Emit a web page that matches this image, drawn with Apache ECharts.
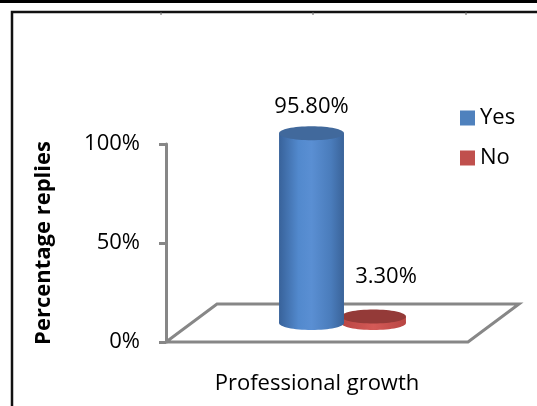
<!DOCTYPE html>
<html><head><meta charset="utf-8">
<script src="https://cdn.jsdelivr.net/npm/echarts@6/dist/echarts.min.js"></script>
<style>html,body{margin:0;padding:0;background:#fff}#c{width:537px;height:406px}</style>
</head><body><div id="c"></div>
<script>
// ---- data ----
const categories = ['Professional growth'];
const seriesNames = ['Yes', 'No'];
const yesValues = [95.8];
const noValues = [3.3];
const yTicks = [0, 50, 100];
const axisTitleY = 'Percentage replies';

// ---- styles ----
const FONT = 'Open Sans';
const DEPTH = [25.5, -19];
const GRAY = '#878787';
const cylStyles = {
  Yes: { color: '#4f81bd', shift: -0.1026, widthFrac: 0.215, ry: 7,
    body: [{offset:0,color:'#38629a'},{offset:0.3,color:'#5289cd'},{offset:0.5,color:'#5a8fd3'},{offset:0.8,color:'#4a7cbb'},{offset:1,color:'#3a6399'}],
    top: '#41699c', labelDx: 0, labelDy: -27 },
  No: { color: '#c0504d', shift: 0.1026, widthFrac: 0.215, ry: 7,
    body: [{offset:0,color:'#b84643'},{offset:0.5,color:'#d45a57'},{offset:1,color:'#b84643'}],
    top: '#943a38', labelDx: 12.5, labelDy: -40 }
};

function makeRender(name) {
  const s = cylStyles[name];
  return function (params, api) {
    const cat = api.value(0), val = api.value(1);
    const band = api.size([1, 0])[0];
    const p1 = api.coord([cat, val]);
    const p0 = api.coord([cat, 0]);
    const cx = p0[0] + DEPTH[0] + s.shift * band;
    const yb = p0[1] + DEPTH[1];
    const yt = p1[1] + DEPTH[1];
    const rx = band * s.widthFrac / 2;
    const grad = new echarts.graphic.LinearGradient(0, 0, 1, 0, s.body);
    return { type: 'group', children: [
      { type: 'ellipse', shape: { cx: cx, cy: yb, rx: rx, ry: s.ry }, style: { fill: grad } },
      { type: 'rect', shape: { x: cx - rx, y: yt, width: 2 * rx, height: yb - yt }, style: { fill: grad } },
      { type: 'ellipse', shape: { cx: cx, cy: yt, rx: rx, ry: s.ry }, style: { fill: s.top } },
      { type: 'text', x: cx + s.labelDx, y: yt + s.labelDy, style: {
          text: val.toFixed(2) + '%', fontSize: 22, fontFamily: FONT, fill: '#000',
          align: 'center', verticalAlign: 'middle' } }
    ]};
  };
}

function renderFloor(params, api) {
  const c = params.coordSys;
  const x0 = c.x, x1 = c.x + c.width, y = c.y + c.height;
  return { type: 'polygon', shape: { points: [
      [x0, y], [x1, y], [x1 + 2 * DEPTH[0], y + 2 * DEPTH[1]], [x0 + 2 * DEPTH[0], y + 2 * DEPTH[1]]
    ] }, style: { fill: '#fff', stroke: GRAY, lineWidth: 3, lineJoin: 'miter' }, z2: 0 };
}

const chart = echarts.init(document.getElementById('c'), null, { renderer: 'canvas' });
chart.setOption({
  animation: false,
  backgroundColor: '#fff',
  grid: { left: 166, right: 69, top: 144, bottom: 64, containLabel: false },
  legend: {
    data: seriesNames, orient: 'vertical', left: 455, top: 102,
    itemWidth: 15, itemHeight: 15, itemGap: 18, icon: 'rect',
    textStyle: { fontSize: 22, fontFamily: FONT, color: '#000', lineHeight: 22 }
  },
  xAxis: {
    type: 'category', data: categories,
    axisLine: { show: false }, axisTick: { show: false }, splitLine: { show: false },
    axisLabel: { fontSize: 22, fontFamily: FONT, color: '#000', margin: 31 }
  },
  yAxis: {
    type: 'value', min: yTicks[0], max: yTicks[yTicks.length - 1], interval: yTicks[1] - yTicks[0],
    name: axisTitleY, nameLocation: 'middle', nameRotate: 90, nameGap: 111,
    nameTextStyle: { fontSize: 22, fontWeight: 'bold', fontFamily: FONT, color: '#000' },
    axisLine: { show: true, lineStyle: { color: GRAY, width: 3 } },
    axisTick: { show: true, length: 7, lineStyle: { color: GRAY, width: 3 } },
    splitLine: { show: false },
    axisLabel: { fontSize: 22, fontFamily: FONT, color: '#000', margin: 26, formatter: v => v + '%' }
  },
  graphic: [
    { type: 'rect', shape: { x: 0, y: 0, width: 537, height: 3 }, style: { fill: '#000' } },
    { type: 'polyline', shape: { points: [[12, 406], [12, 12], [537, 12]] }, style: { stroke: '#111', lineWidth: 2.5, fill: null } },
    { type: 'line', shape: { x1: 161, y1: 12, x2: 161, y2: 15 }, style: { stroke: '#666', lineWidth: 1 } },
    { type: 'line', shape: { x1: 313, y1: 12, x2: 313, y2: 15 }, style: { stroke: '#666', lineWidth: 1 } },
    { type: 'line', shape: { x1: 466, y1: 12, x2: 466, y2: 15 }, style: { stroke: '#666', lineWidth: 1 } }
  ],
  series: [
    { name: 'floor', type: 'custom', renderItem: renderFloor, data: [[0]], silent: true, z: 1 },
    { name: 'No', type: 'custom', renderItem: makeRender('No'), itemStyle: { color: cylStyles.No.color },
      data: noValues.map((v, i) => [i, v]), encode: { x: 0, y: 1 }, z: 3 },
    { name: 'Yes', type: 'custom', renderItem: makeRender('Yes'), itemStyle: { color: cylStyles.Yes.color },
      data: yesValues.map((v, i) => [i, v]), encode: { x: 0, y: 1 }, z: 4 }
  ]
});
</script>
</body></html>
